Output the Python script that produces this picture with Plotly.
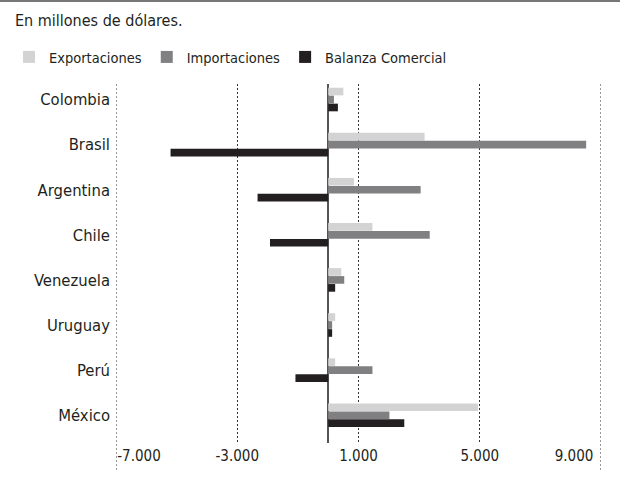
import plotly.graph_objects as go

countries = ["Colombia", "Brasil", "Argentina", "Chile", "Venezuela", "Uruguay", "Perú", "México"]
exportaciones = [500, 3180, 850, 1460, 430, 230, 230, 4940]
importaciones = [190, 8510, 3050, 3350, 530, 130, 1460, 2020]
balanza = [320, -5200, -2330, -1920, 230, 130, -1080, 2510]

tick_vals = [-7000, -3000, 1000, 5000, 9000]
tick_text = ["-7.000", "-3.000", "1.000", "5.000", "9.000"]

FONT = "DejaVu Sans Condensed, DejaVu Sans, sans-serif"
TXT = "#231f20"

fig = go.Figure()
series = [
    ("Exportaciones", exportaciones, "#d3d3d4"),
    ("Importaciones", importaciones, "#808083"),
    ("Balanza Comercial", balanza, "#231f20"),
]
for name, vals, col in series:
    fig.add_trace(go.Bar(
        y=countries, x=vals, name=name, orientation="h",
        marker=dict(color=col, line=dict(width=0)),
    ))

W, H = 620, 480
ml, mr, mt, mb = 116, 19, 84, 37
pw = W - ml - mr
span = tick_vals[-1] - tick_vals[0]

# end labels sit inside the outer grid lines (shifted by a few pixels)
label_pos = list(tick_vals)
label_pos[0] = tick_vals[0] + 23 / pw * span
label_pos[-1] = tick_vals[-1] - 27 / pw * span

fig.update_layout(
    width=W, height=H,
    margin=dict(l=ml, r=mr, t=mt, b=mb, autoexpand=False),
    paper_bgcolor="white", plot_bgcolor="white",
    font=dict(family=FONT, size=16, color=TXT),
    barmode="group", bargap=0.47, bargroupgap=0.04,
    title=dict(text="En millones de dólares.", x=15 / W, xanchor="left",
               y=1 - 20 / H, yanchor="middle", font=dict(size=16, color=TXT)),
    legend=dict(orientation="h", xref="container", yref="container",
                x=9 / W, xanchor="left", y=1 - 57 / H, yanchor="middle",
                font=dict(size=14.5, color=TXT), itemwidth=30,
                traceorder="normal"),
    showlegend=True,
    xaxis=dict(range=[tick_vals[0], tick_vals[-1]], tickmode="array",
               tickvals=label_pos, ticktext=tick_text,
               showgrid=False,
               minor=dict(tickmode="array", tickvals=tick_vals, showgrid=True,
                          gridcolor="#333", griddash="2px,2px", gridwidth=1, ticks=""),
               zeroline=True, zerolinecolor="#555", zerolinewidth=1.5,
               showline=False, ticks="", ticklabelstandoff=2, automargin=False,
               tickfont=dict(size=15, color=TXT)),
    yaxis=dict(categoryorder="array", categoryarray=countries,
               range=[7.616, -0.344], showgrid=False, zeroline=False,
               showline=False, ticks="", ticklabelstandoff=5, automargin=False,
               tickfont=dict(size=16.5, color=TXT)),
)

for v in (tick_vals[0], tick_vals[-1]):
    fig.add_shape(type="line", xref="x", yref="paper", x0=v, x1=v,
                  y0=-(470 - (H - mb)) / (H - mt - mb), y1=1,
                  line=dict(color="#333", width=1, dash="2px,2px"), layer="above")

# top border rule
fig.add_shape(type="line", xref="paper", yref="paper",
              x0=-ml / pw, x1=(W - ml) / pw,
              y0=(H - mb - 1) / (H - mt - mb), y1=(H - mb - 1) / (H - mt - mb),
              line=dict(color="#777", width=2))

fig.write_html("out.html", config={"displayModeBar": False},
               post_script="document.body.style.margin='0';")
